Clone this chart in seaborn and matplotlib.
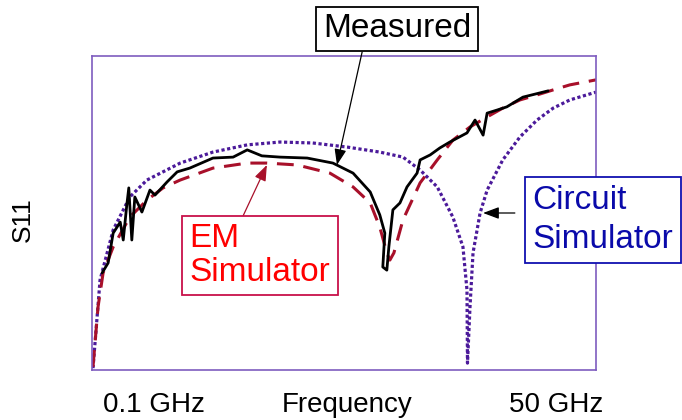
import matplotlib
matplotlib.use("Agg")
import matplotlib.pyplot as plt
import seaborn as sns
import pandas as pd

# Normalised frequency axis (0 = 0.1 GHz, 100 = 50 GHz) and normalised S11
circuit_x = [0.2, 1.6, 4.2, 7.5, 10.9, 17.5, 24.0, 30.8, 37.3, 43.8, 50.6, 57.1, 61.7, 65.1,
             68.5, 71.6, 73.6, 74.4, 74.5, 75.0, 75.6, 77.0, 78.4, 81.5, 84.9, 88.3, 91.5,
             94.8, 100.0]
circuit_y = [0.6, 28.7, 44.6, 55.1, 60.5, 65.9, 69.4, 71.7, 72.6, 72.3, 71.0, 69.4, 67.8, 63.7,
             58.3, 48.7, 39.2, 25.5, 2.2, 20.1, 37.3, 50.0, 57.3, 66.9, 74.2, 79.6, 83.4,
             86.0, 88.5]

em_x = [0.2, 1.2, 2.2, 4.2, 7.5, 10.9, 14.1, 17.5, 24.0, 30.8, 34.7, 40.7, 47.2, 51.8, 55.2,
        57.1, 58.5, 59.1, 59.9, 61.7, 65.1, 68.5, 71.6, 75.0, 78.4, 81.5, 84.9, 88.3, 91.5,
        94.8, 100.0]
em_y = [1.0, 20.1, 30.9, 39.2, 48.7, 54.1, 58.0, 60.5, 64.3, 65.9, 65.9, 65.3, 62.7, 58.3, 53.2,
        45.5, 37.3, 35.0, 37.3, 47.8, 59.6, 66.9, 73.2, 77.4, 80.6, 83.4, 86.0, 87.6, 89.2,
        90.8, 92.4]

meas_x = [2.0, 3.2, 4.2, 5.6, 6.2, 6.9, 7.3, 7.9, 8.5, 9.9, 11.5, 12.5, 14.9, 16.9, 19.4, 24.0,
          28.0, 30.8, 33.7, 37.3, 42.7, 47.8, 51.8, 55.2, 57.1, 58.1, 57.7, 58.5, 58.9, 59.7,
          61.1, 62.5, 64.5, 65.1, 67.1, 69.0, 71.0, 74.4, 76.0, 77.6, 78.4, 80.4, 82.3, 85.5,
          90.5]
meas_y = [30.9, 34.1, 43.6, 47.1, 41.4, 52.5, 58.0, 41.4, 55.1, 50.3, 57.3, 55.7, 59.9, 63.1,
          64.3, 67.5, 67.8, 70.1, 68.2, 67.8, 67.5, 65.9, 62.7, 56.7, 49.4, 43.6, 32.8, 31.8,
          39.2, 51.0, 53.2, 58.3, 62.7, 66.9, 68.5, 70.7, 72.6, 75.5, 79.6, 74.8, 81.8, 82.8,
          83.8, 86.9, 88.9]

x_labels = ["0.1 GHz", "Frequency", "50 GHz"]
y_label = "S11"

sns.set_theme(style="white")
plt.rcParams['font.family'] = ['Liberation Sans', 'DejaVu Sans']

fig = plt.figure(figsize=(6.82, 4.2), dpi=100)
ax = fig.add_axes([92/682, 1-370/420, 504/682, 314/420])

frame_col = "#7E5CBF"
circ_col = "#4B1A9A"
em_col = "#A8102A"

sns.lineplot(x=circuit_x, y=circuit_y, ax=ax, color=circ_col, lw=2.3, sort=False,
             estimator=None, linestyle=(0, (1.0, 0.8)))
sns.lineplot(x=em_x, y=em_y, ax=ax, color=em_col, lw=2.2, sort=False,
             estimator=None, linestyle=(0, (5.5, 3.2)))
sns.lineplot(x=meas_x, y=meas_y, ax=ax, color="black", lw=2.0, sort=False, estimator=None)

ax.set_xlim(0, 100)
ax.set_ylim(0, 100)
ax.set_xticks([])
ax.set_yticks([])
ax.set_xlabel("")
ax.set_ylabel("")
for s in ax.spines.values():
    s.set_color(frame_col)
    s.set_linewidth(1.2)

# Measured annotation
ax.annotate("", xy=(48.6, 65.3), xytext=(53.6, 101.3), annotation_clip=False,
            arrowprops=dict(arrowstyle="-|>,head_length=0.8,head_width=0.3", color="black", lw=0.9,
                            shrinkA=0, shrinkB=0))
ax.text(60.5, 108.6, "Measured", ha="center", va="center", fontsize=24, color="black",
        clip_on=False,
        bbox=dict(boxstyle="square,pad=0.2", fc="white", ec="black", lw=1.3))

# EM simulator annotation
ax.annotate("", xy=(34.7, 65.3), xytext=(29.4, 47.1),
            arrowprops=dict(arrowstyle="-|>,head_length=0.8,head_width=0.3", color=em_col, lw=0.9,
                            shrinkA=0, shrinkB=0))
ax.text(33.3, 36.5, "EM\nSimulator", ha="center", va="center", fontsize=24, color="#FF0000",
        multialignment="left", linespacing=1.12,
        bbox=dict(boxstyle="square,pad=0.22", fc="white", ec="#C8104A", lw=1.3))

# Circuit simulator annotation
ax.annotate("", xy=(77.6, 50.0), xytext=(83.9, 50.0),
            arrowprops=dict(arrowstyle="-|>,head_length=0.8,head_width=0.3", color="black", lw=0.9,
                            shrinkA=0, shrinkB=0))
ax.text(101.4, 47.8, "Circuit\nSimulator", ha="center", va="center", fontsize=24, color="#0A0AAA",
        multialignment="left", linespacing=1.3, clip_on=False,
        bbox=dict(boxstyle="square,pad=0.24", fc="white", ec="#1010B0", lw=1.3))

fig.text(154/682, 1-405/420, x_labels[0], ha="center", va="center", fontsize=20, color="black")
fig.text(347/682, 1-405/420, x_labels[1], ha="center", va="center", fontsize=20, color="black")
fig.text(556/682, 1-405/420, x_labels[2], ha="center", va="center", fontsize=20, color="black")
fig.text(23/682, 1-220/420, y_label, ha="center", va="center", fontsize=19, rotation=90,
         color="black")

fig.savefig("out.png", dpi=100)
